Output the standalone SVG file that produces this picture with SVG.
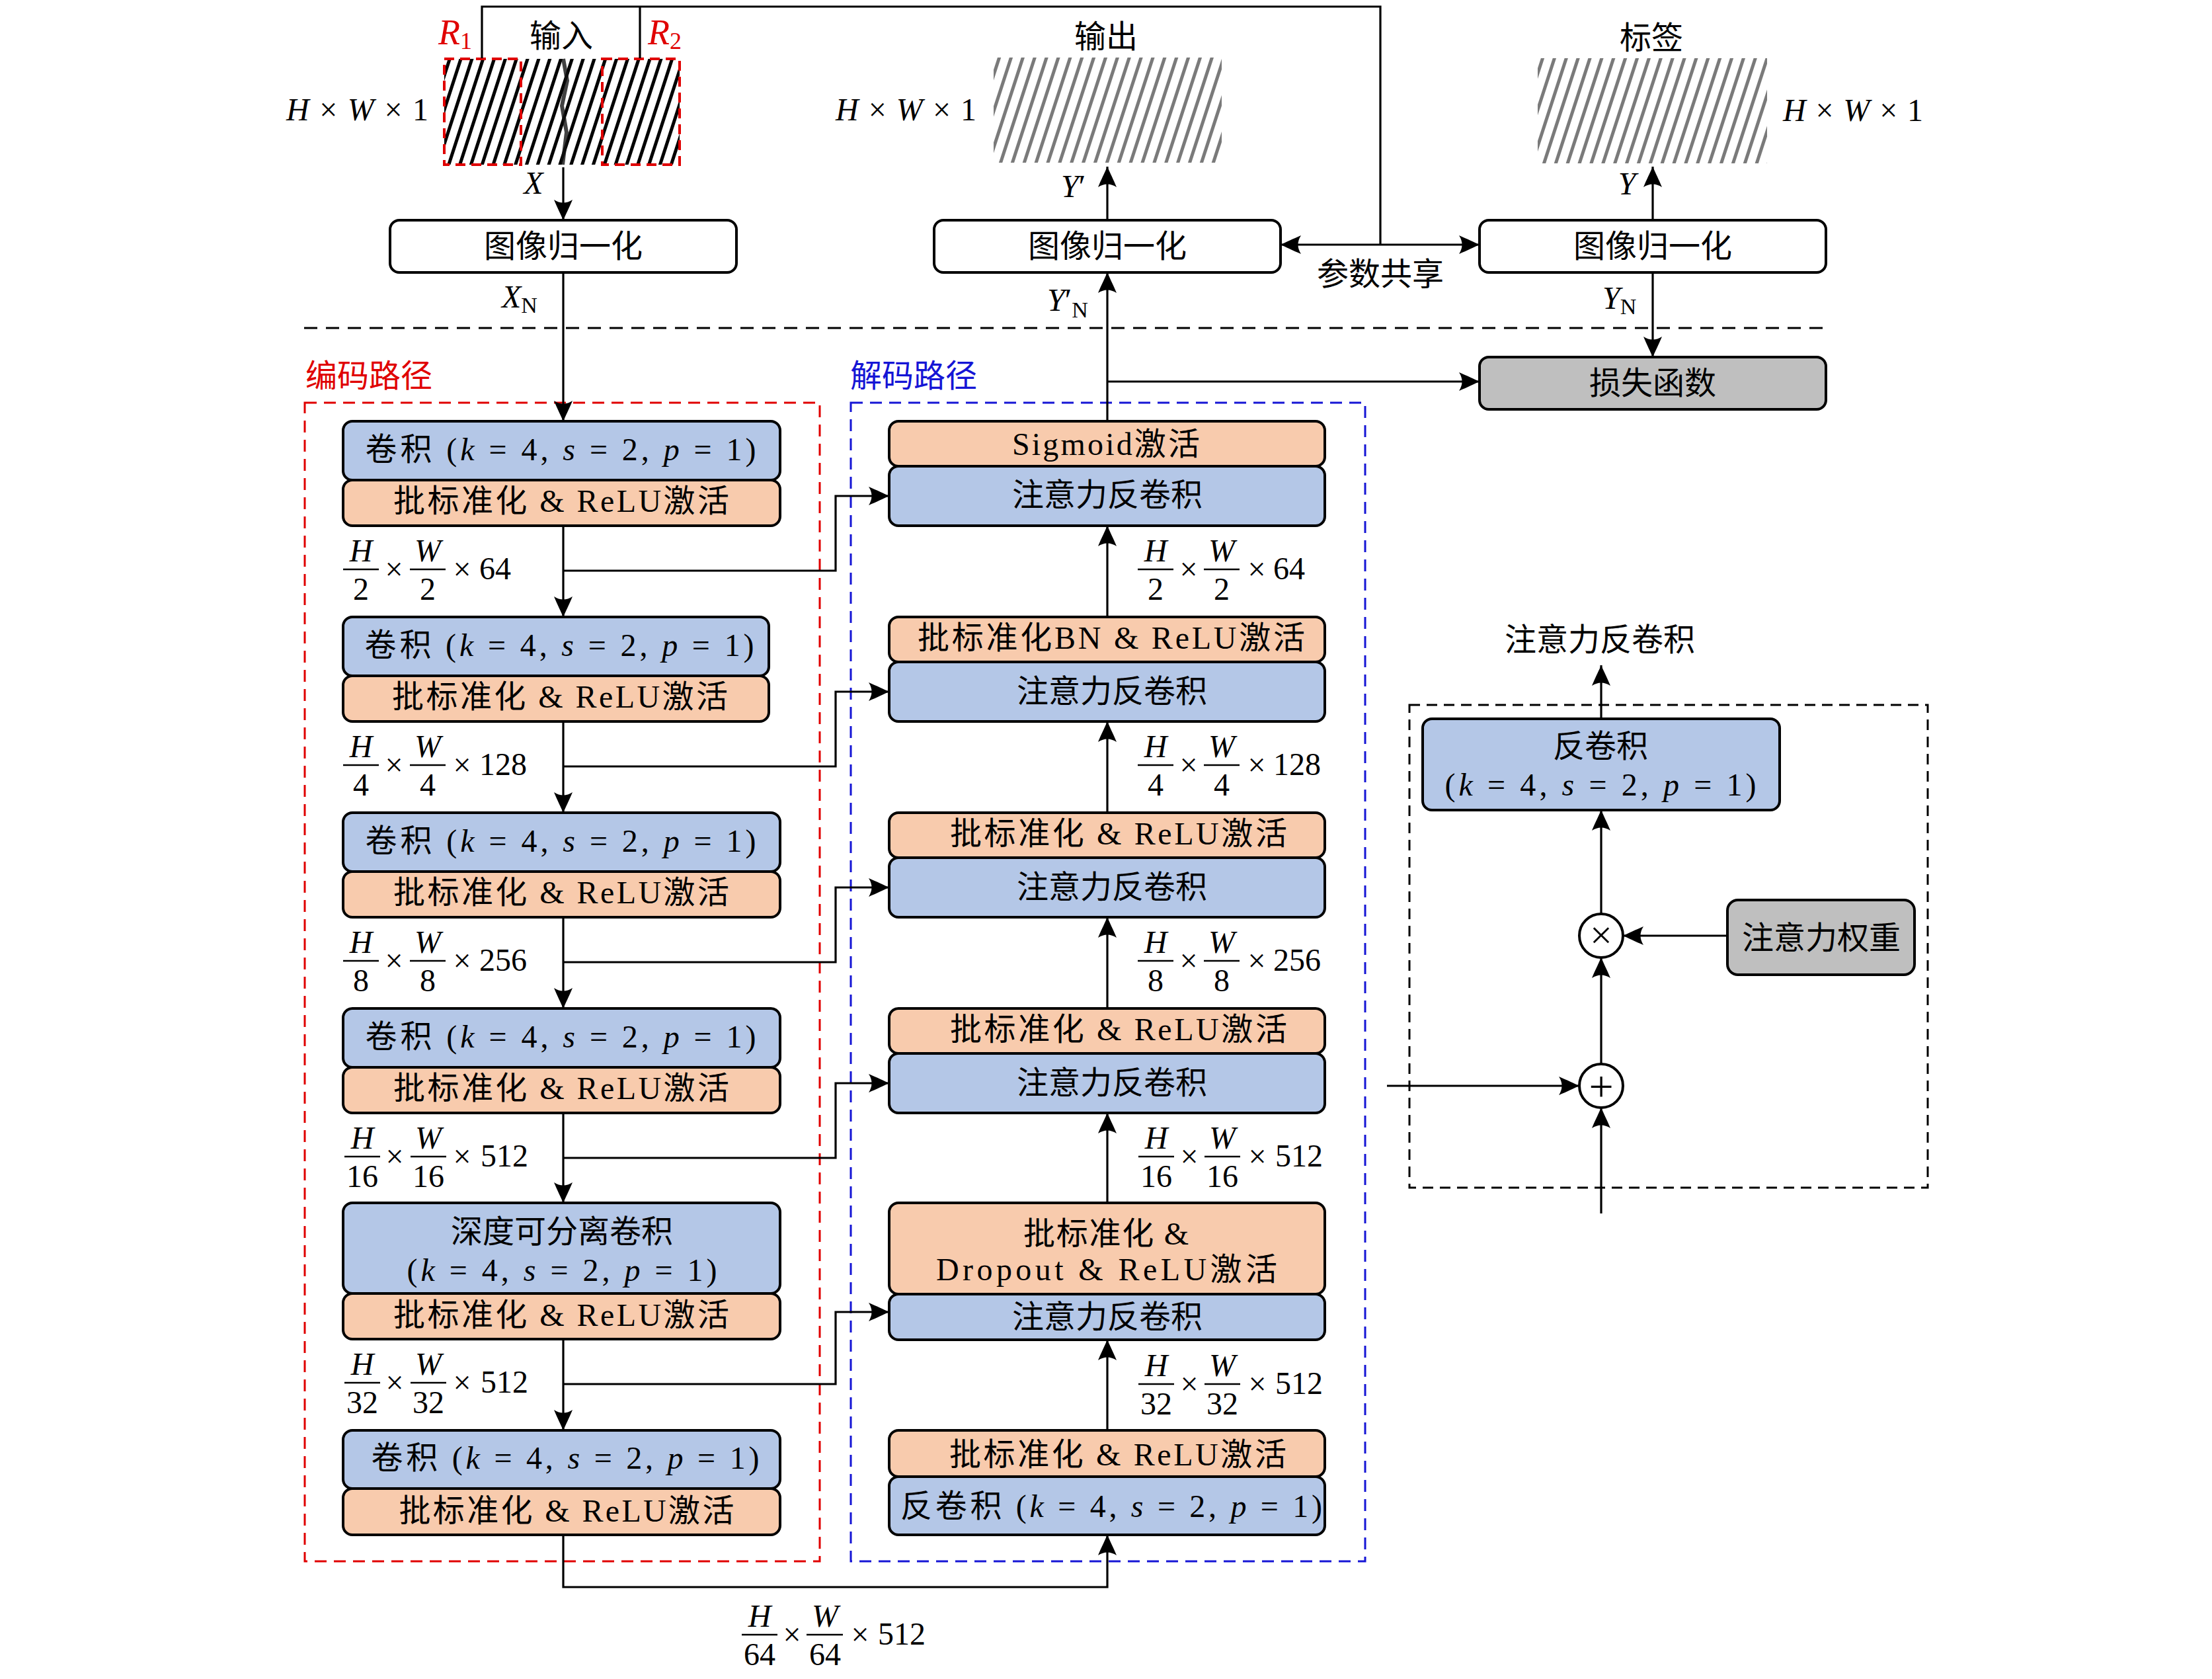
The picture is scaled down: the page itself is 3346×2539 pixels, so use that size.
<svg xmlns="http://www.w3.org/2000/svg" width="3346" height="2539" viewBox="0 0 3346 2539">
<defs>
<style>
.t{font-family:"Liberation Serif","Noto Sans CJK SC",serif;font-size:48px;fill:#000}
.c{text-anchor:middle}
.i{font-style:italic}
.ln{fill:none;stroke:#000;stroke-width:3.2}
.ar{marker-end:url(#ah)}
.bx{stroke:#000;stroke-width:4}
.blue{fill:#b4c7e7}
.org{fill:#f8cbad}
.gray{fill:#bfbfbf}
.wht{fill:#fff}
.fb{stroke:#000;stroke-width:2.6}
.red{fill:#e00000}
</style>
<marker id="ah" viewBox="-32 -16 34 32" refX="0" refY="0" markerWidth="34" markerHeight="32" markerUnits="userSpaceOnUse" orient="auto">
<path d="M0,0 C-7,-3 -19,-9 -31,-14 Q-22,0 -31,14 C-19,9 -7,3 0,0Z" fill="#000"/>
</marker>
<pattern id="hIn" patternUnits="userSpaceOnUse" width="16" height="20" patternTransform="rotate(18)">
<rect x="0" y="0" width="5" height="20" fill="#000"/>
</pattern>
<pattern id="hOut" patternUnits="userSpaceOnUse" width="17" height="20" patternTransform="rotate(18)">
<rect x="0" y="0" width="5" height="20" fill="#7a7a7a"/>
</pattern>
</defs>
<rect x="0" y="0" width="3346" height="2539" fill="#fff"/>

<!-- top images -->
<g id="input-image">
<rect x="672" y="89" width="356" height="160" fill="url(#hIn)"/>
<path d="M852,89 L858,122 L850,160 L857,200 L851,249" fill="none" stroke="#111" stroke-width="6" opacity="0.8"/>
<rect x="672" y="89" width="116" height="160" fill="none" stroke="#e00000" stroke-width="4" stroke-dasharray="15 9"/>
<rect x="911" y="89" width="117" height="160" fill="none" stroke="#e00000" stroke-width="4" stroke-dasharray="15 9"/>
<text class="t c" x="849" y="71">输入</text>
<text class="t red" x="663" y="67" style="font-size:54px"><tspan class="i">R</tspan><tspan font-size="36" dy="7">1</tspan></text>
<text class="t red" x="980" y="67" style="font-size:54px"><tspan class="i">R</tspan><tspan font-size="36" dy="7">2</tspan></text>
<text class="t" x="433" y="182" textLength="215" lengthAdjust="spacing"><tspan class="i">H</tspan> × <tspan class="i">W</tspan> × 1</text>
</g>
<g id="output-image">
<rect x="1503" y="87" width="345" height="159" fill="url(#hOut)"/>
<text class="t c" x="1673" y="72">输出</text>
<text class="t" x="1264" y="182" textLength="213" lengthAdjust="spacing"><tspan class="i">H</tspan> × <tspan class="i">W</tspan> × 1</text>
</g>
<g id="label-image">
<rect x="2326" y="88" width="347" height="159" fill="url(#hOut)"/>
<text class="t c" x="2498" y="74">标签</text>
<text class="t" x="2697" y="183" textLength="212" lengthAdjust="spacing"><tspan class="i">H</tspan> × <tspan class="i">W</tspan> × 1</text>
</g>

<!-- normalization boxes -->
<g id="norm1"><rect class="bx wht" x="590" y="333" width="524" height="79" rx="14"/><text class="t c" x="852" y="389">图像归一化</text></g>
<g id="norm2"><rect class="bx wht" x="1413" y="333" width="524" height="79" rx="14"/><text class="t c" x="1675" y="389">图像归一化</text></g>
<g id="norm3"><rect class="bx wht" x="2238" y="333" width="524" height="79" rx="14"/><text class="t c" x="2500" y="389">图像归一化</text></g>
<g id="loss"><rect class="bx gray" x="2238" y="540" width="524" height="79" rx="14"/><text class="t c" x="2500" y="596">损失函数</text></g>

<!-- path labels and frames -->
<g id="encoder-frame">
<rect x="461" y="609" width="779" height="1752" fill="none" stroke="#e00000" stroke-width="3" stroke-dasharray="18 11"/>
<text class="t red" x="462" y="585">编码路径</text>
</g>
<g id="decoder-frame">
<rect x="1287" y="609" width="778" height="1752" fill="none" stroke="#1515d5" stroke-width="3" stroke-dasharray="18 11"/>
<text class="t" x="1286" y="585" style="fill:#1515d5">解码路径</text>
</g>
<line x1="460" y1="496" x2="2762" y2="496" stroke="#000" stroke-width="3" stroke-dasharray="20 13"/>

<!-- encoder blocks -->
<g id="enc1">
<rect class="bx blue" x="519" y="637" width="661" height="89" rx="14"/>
<rect class="bx org" x="519" y="726" width="661" height="69" rx="14"/>
<text class="t c" x="848" y="696" textLength="591" lengthAdjust="spacing">卷积 (<tspan class="i">k</tspan> = 4, <tspan class="i">s</tspan> = 2, <tspan class="i">p</tspan> = 1)</text>
<text class="t c" x="849" y="774" textLength="508" lengthAdjust="spacing">批标准化 &amp; ReLU激活</text>
</g>
<g id="enc2">
<rect class="bx blue" x="519" y="933" width="644" height="89" rx="14"/>
<rect class="bx org" x="519" y="1022" width="644" height="69" rx="14"/>
<text class="t c" x="846" y="992" textLength="589" lengthAdjust="spacing">卷积 (<tspan class="i">k</tspan> = 4, <tspan class="i">s</tspan> = 2, <tspan class="i">p</tspan> = 1)</text>
<text class="t c" x="847" y="1070" textLength="508" lengthAdjust="spacing">批标准化 &amp; ReLU激活</text>
</g>
<g id="enc3">
<rect class="bx blue" x="519" y="1229" width="661" height="89" rx="14"/>
<rect class="bx org" x="519" y="1318" width="661" height="69" rx="14"/>
<text class="t c" x="848" y="1288" textLength="591" lengthAdjust="spacing">卷积 (<tspan class="i">k</tspan> = 4, <tspan class="i">s</tspan> = 2, <tspan class="i">p</tspan> = 1)</text>
<text class="t c" x="849" y="1366" textLength="508" lengthAdjust="spacing">批标准化 &amp; ReLU激活</text>
</g>
<g id="enc4">
<rect class="bx blue" x="519" y="1525" width="661" height="89" rx="14"/>
<rect class="bx org" x="519" y="1614" width="661" height="69" rx="14"/>
<text class="t c" x="848" y="1584" textLength="591" lengthAdjust="spacing">卷积 (<tspan class="i">k</tspan> = 4, <tspan class="i">s</tspan> = 2, <tspan class="i">p</tspan> = 1)</text>
<text class="t c" x="849" y="1662" textLength="508" lengthAdjust="spacing">批标准化 &amp; ReLU激活</text>
</g>
<g id="enc5">
<rect class="bx blue" x="519" y="1819" width="661" height="137" rx="14"/>
<rect class="bx org" x="519" y="1956" width="661" height="69" rx="14"/>
<text class="t c" x="850" y="1879">深度可分离卷积</text>
<text class="t c" x="850" y="1937" textLength="469" lengthAdjust="spacing">(<tspan class="i">k</tspan> = 4, <tspan class="i">s</tspan> = 2, <tspan class="i">p</tspan> = 1)</text>
<text class="t c" x="849" y="2005" textLength="508" lengthAdjust="spacing">批标准化 &amp; ReLU激活</text>
</g>
<g id="enc6">
<rect class="bx blue" x="519" y="2163" width="661" height="88" rx="14"/>
<rect class="bx org" x="519" y="2251" width="661" height="70" rx="14"/>
<text class="t c" x="855" y="2221" textLength="587" lengthAdjust="spacing">卷积 (<tspan class="i">k</tspan> = 4, <tspan class="i">s</tspan> = 2, <tspan class="i">p</tspan> = 1)</text>
<text class="t c" x="857" y="2301" textLength="507" lengthAdjust="spacing">批标准化 &amp; ReLU激活</text>
</g>

<!-- decoder blocks -->
<g id="dec1">
<rect class="bx org" x="1345" y="637" width="659" height="68" rx="14"/>
<rect class="bx blue" x="1345" y="705" width="659" height="90" rx="14"/>
<text class="t c" x="1673" y="688" textLength="284" lengthAdjust="spacing">Sigmoid激活</text>
<text class="t c" x="1675" y="765">注意力反卷积</text>
</g>
<g id="dec2">
<rect class="bx org" x="1345" y="933" width="659" height="68" rx="14"/>
<rect class="bx blue" x="1345" y="1001" width="659" height="90" rx="14"/>
<text class="t c" x="1681" y="981" textLength="586" lengthAdjust="spacing">批标准化BN &amp; ReLU激活</text>
<text class="t c" x="1682" y="1062">注意力反卷积</text>
</g>
<g id="dec3">
<rect class="bx org" x="1345" y="1229" width="659" height="68" rx="14"/>
<rect class="bx blue" x="1345" y="1297" width="659" height="90" rx="14"/>
<text class="t c" x="1692" y="1277" textLength="510" lengthAdjust="spacing">批标准化 &amp; ReLU激活</text>
<text class="t c" x="1682" y="1358">注意力反卷积</text>
</g>
<g id="dec4">
<rect class="bx org" x="1345" y="1525" width="659" height="68" rx="14"/>
<rect class="bx blue" x="1345" y="1593" width="659" height="90" rx="14"/>
<text class="t c" x="1692" y="1573" textLength="510" lengthAdjust="spacing">批标准化 &amp; ReLU激活</text>
<text class="t c" x="1682" y="1654">注意力反卷积</text>
</g>
<g id="dec5">
<rect class="bx org" x="1345" y="1819" width="659" height="138" rx="14"/>
<rect class="bx blue" x="1345" y="1957" width="659" height="69" rx="14"/>
<text class="t c" x="1673" y="1882" textLength="250" lengthAdjust="spacing">批标准化 &amp;</text>
<text class="t c" x="1674" y="1936" textLength="516" lengthAdjust="spacing">Dropout &amp; ReLU激活</text>
<text class="t c" x="1675" y="2008">注意力反卷积</text>
</g>
<g id="dec6">
<rect class="bx org" x="1345" y="2163" width="659" height="70" rx="14"/>
<rect class="bx blue" x="1345" y="2233" width="659" height="88" rx="14"/>
<text class="t c" x="1691" y="2216" textLength="510" lengthAdjust="spacing">批标准化 &amp; ReLU激活</text>
<text class="t c" x="1681" y="2294" textLength="638" lengthAdjust="spacing">反卷积 (<tspan class="i">k</tspan> = 4, <tspan class="i">s</tspan> = 2, <tspan class="i">p</tspan> = 1)</text>
</g>

<!-- attention detail -->
<g id="att-frame">
<rect x="2132" y="1066" width="784" height="730" fill="none" stroke="#000" stroke-width="3" stroke-dasharray="16 10"/>
<text class="t c" x="2420" y="984">注意力反卷积</text>
</g>
<g id="att-deconv">
<rect class="bx blue" x="2152" y="1087" width="540" height="138" rx="14"/>
<text class="t c" x="2421" y="1145">反卷积</text>
<text class="t c" x="2421" y="1203" textLength="471" lengthAdjust="spacing">(<tspan class="i">k</tspan> = 4, <tspan class="i">s</tspan> = 2, <tspan class="i">p</tspan> = 1)</text>
</g>
<g id="att-weight">
<rect class="bx gray" x="2613" y="1361" width="283" height="113" rx="16"/>
<text class="t c" x="2755" y="1435">注意力权重</text>
</g>
<g id="mul"><circle cx="2422" cy="1415" r="33" fill="#fff" stroke="#000" stroke-width="4"/><text class="t c" x="2422" y="1434" style="font-size:60px">×</text></g>
<g id="add"><circle cx="2422" cy="1642" r="33" fill="#fff" stroke="#000" stroke-width="4"/><text class="t c" x="2422" y="1665" style="font-size:66px">+</text></g>

<!-- size labels -->
<g id="labels">
<g class="t">
<text class="c i" x="546" y="849">H</text><line class="fb" x1="519" y1="861" x2="573" y2="861"/><text class="c" x="546" y="907">2</text>
<text class="c" x="596" y="877">×</text>
<text class="c i" x="647" y="849">W</text><line class="fb" x1="620" y1="861" x2="674" y2="861"/><text class="c" x="647" y="907">2</text>
<text class="c" x="699" y="877">×</text><text x="725" y="876">64</text>
</g>
<g class="t">
<text class="c i" x="546" y="1145">H</text><line class="fb" x1="519" y1="1157" x2="573" y2="1157"/><text class="c" x="546" y="1203">4</text>
<text class="c" x="596" y="1173">×</text>
<text class="c i" x="647" y="1145">W</text><line class="fb" x1="620" y1="1157" x2="674" y2="1157"/><text class="c" x="647" y="1203">4</text>
<text class="c" x="699" y="1173">×</text><text x="725" y="1172">128</text>
</g>
<g class="t">
<text class="c i" x="546" y="1441">H</text><line class="fb" x1="519" y1="1453" x2="573" y2="1453"/><text class="c" x="546" y="1499">8</text>
<text class="c" x="596" y="1469">×</text>
<text class="c i" x="647" y="1441">W</text><line class="fb" x1="620" y1="1453" x2="674" y2="1453"/><text class="c" x="647" y="1499">8</text>
<text class="c" x="699" y="1469">×</text><text x="725" y="1468">256</text>
</g>
<g class="t">
<text class="c i" x="548" y="1737">H</text><line class="fb" x1="521" y1="1749" x2="575" y2="1749"/><text class="c" x="548" y="1795">16</text>
<text class="c" x="597" y="1765">×</text>
<text class="c i" x="648" y="1737">W</text><line class="fb" x1="621" y1="1749" x2="675" y2="1749"/><text class="c" x="648" y="1795">16</text>
<text class="c" x="699" y="1765">×</text><text x="727" y="1764">512</text>
</g>
<g class="t">
<text class="c i" x="548" y="2079">H</text><line class="fb" x1="521" y1="2091" x2="575" y2="2091"/><text class="c" x="548" y="2137">32</text>
<text class="c" x="597" y="2107">×</text>
<text class="c i" x="648" y="2079">W</text><line class="fb" x1="621" y1="2091" x2="675" y2="2091"/><text class="c" x="648" y="2137">32</text>
<text class="c" x="699" y="2107">×</text><text x="727" y="2106">512</text>
</g>
<g class="t">
<text class="c i" x="1748" y="849">H</text><line class="fb" x1="1721" y1="861" x2="1775" y2="861"/><text class="c" x="1748" y="907">2</text>
<text class="c" x="1798" y="877">×</text>
<text class="c i" x="1848" y="849">W</text><line class="fb" x1="1821" y1="861" x2="1875" y2="861"/><text class="c" x="1848" y="907">2</text>
<text class="c" x="1901" y="877">×</text><text x="1926" y="876">64</text>
</g>
<g class="t">
<text class="c i" x="1748" y="1145">H</text><line class="fb" x1="1721" y1="1157" x2="1775" y2="1157"/><text class="c" x="1748" y="1203">4</text>
<text class="c" x="1798" y="1173">×</text>
<text class="c i" x="1848" y="1145">W</text><line class="fb" x1="1821" y1="1157" x2="1875" y2="1157"/><text class="c" x="1848" y="1203">4</text>
<text class="c" x="1901" y="1173">×</text><text x="1926" y="1172">128</text>
</g>
<g class="t">
<text class="c i" x="1748" y="1441">H</text><line class="fb" x1="1721" y1="1453" x2="1775" y2="1453"/><text class="c" x="1748" y="1499">8</text>
<text class="c" x="1798" y="1469">×</text>
<text class="c i" x="1848" y="1441">W</text><line class="fb" x1="1821" y1="1453" x2="1875" y2="1453"/><text class="c" x="1848" y="1499">8</text>
<text class="c" x="1901" y="1469">×</text><text x="1926" y="1468">256</text>
</g>
<g class="t">
<text class="c i" x="1749" y="1737">H</text><line class="fb" x1="1722" y1="1749" x2="1776" y2="1749"/><text class="c" x="1749" y="1795">16</text>
<text class="c" x="1799" y="1765">×</text>
<text class="c i" x="1849" y="1737">W</text><line class="fb" x1="1822" y1="1749" x2="1876" y2="1749"/><text class="c" x="1849" y="1795">16</text>
<text class="c" x="1902" y="1765">×</text><text x="1929" y="1764">512</text>
</g>
<g class="t">
<text class="c i" x="1749" y="2081">H</text><line class="fb" x1="1722" y1="2093" x2="1776" y2="2093"/><text class="c" x="1749" y="2139">32</text>
<text class="c" x="1799" y="2109">×</text>
<text class="c i" x="1849" y="2081">W</text><line class="fb" x1="1822" y1="2093" x2="1876" y2="2093"/><text class="c" x="1849" y="2139">32</text>
<text class="c" x="1902" y="2109">×</text><text x="1929" y="2108">512</text>
</g>
<g class="t">
<text class="c i" x="1149" y="2460">H</text><line class="fb" x1="1122" y1="2472" x2="1176" y2="2472"/><text class="c" x="1149" y="2518">64</text>
<text class="c" x="1198" y="2488">×</text>
<text class="c i" x="1248" y="2460">W</text><line class="fb" x1="1220" y1="2472" x2="1275" y2="2472"/><text class="c" x="1248" y="2518">64</text>
<text class="c" x="1301" y="2488">×</text><text x="1328" y="2487">512</text>
</g>
<text class="t c i" x="807" y="293">X</text>
<text class="t" x="759" y="465"><tspan class="i">X</tspan><tspan font-size="34" dy="8">N</tspan></text>
<text class="t" x="1605" y="298"><tspan class="i">Y</tspan>′</text>
<text class="t" x="1584" y="470"><tspan class="i">Y</tspan>′<tspan font-size="34" dy="10">N</tspan></text>
<text class="t c i" x="2461" y="294">Y</text>
<text class="t" x="2424" y="467"><tspan class="i">Y</tspan><tspan font-size="34" dy="8">N</tspan></text>
<text class="t c" x="2088" y="431">参数共享</text>
</g>

<!-- connectors -->
<g id="connectors">
<path class="ln" d="M729,88 V10 H2088 V370"/>
<path class="ln" d="M968,10 V88"/>
<path class="ln ar" d="M2088,370 H1937"/>
<path class="ln ar" d="M2088,370 H2238"/>
<path class="ln ar" d="M852,253 V333"/>
<path class="ln ar" d="M852,412 V637"/>
<path class="ln ar" d="M1675,333 V252"/>
<path class="ln ar" d="M2500,333 V252"/>
<path class="ln ar" d="M2500,412 V540"/>
<path class="ln ar" d="M1675,637 V412"/>
<path class="ln ar" d="M1675,577 H2238"/>
<path class="ln ar" d="M852,795 V933"/>
<path class="ln ar" d="M852,1091 V1229"/>
<path class="ln ar" d="M852,1387 V1525"/>
<path class="ln ar" d="M852,1683 V1819"/>
<path class="ln ar" d="M852,2025 V2163"/>
<path class="ln ar" d="M852,2321 V2400 H1675 V2321"/>
<path class="ln ar" d="M1675,2163 V2026"/>
<path class="ln ar" d="M1675,1819 V1683"/>
<path class="ln ar" d="M1675,1525 V1387"/>
<path class="ln ar" d="M1675,1229 V1091"/>
<path class="ln ar" d="M1675,933 V795"/>
<path class="ln ar" d="M852,863 H1264 V750 H1345"/>
<path class="ln ar" d="M852,1159 H1264 V1046 H1345"/>
<path class="ln ar" d="M852,1455 H1264 V1342 H1345"/>
<path class="ln ar" d="M852,1751 H1264 V1638 H1345"/>
<path class="ln ar" d="M852,2093 H1264 V1984 H1345"/>
<path class="ln ar" d="M2422,1087 V1006"/>
<path class="ln ar" d="M2422,1382 V1225"/>
<path class="ln ar" d="M2613,1415 H2455"/>
<path class="ln ar" d="M2422,1609 V1448"/>
<path class="ln ar" d="M2098,1642 H2389"/>
<path class="ln ar" d="M2422,1835 V1675"/>
</g>
</svg>
